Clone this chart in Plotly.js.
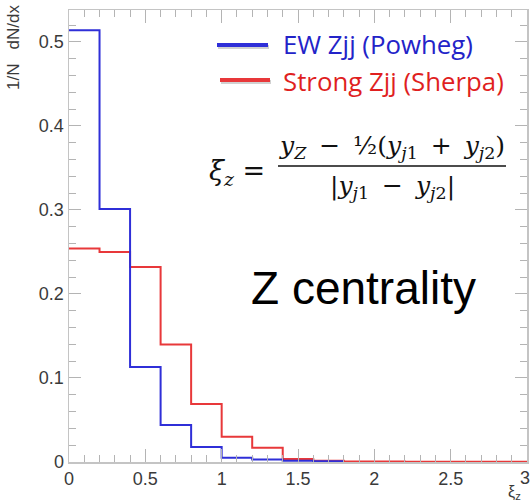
<!DOCTYPE html>
<html>
<head>
<meta charset="utf-8">
<script src="https://cdn.plot.ly/plotly-3.0.1.min.js"></script>
<style>
  html, body { margin: 0; padding: 0; background: #ffffff; overflow: hidden; }
  #chart { width: 540px; height: 504px; }
</style>
</head>
<body>
<div id="chart"></div>
<script>
// Bin edges of the xi_z histogram (width 0.2)
const binEdges = [0, 0.2, 0.4, 0.6, 0.8, 1.0, 1.2, 1.4, 1.6, 1.8, 2.0, 2.2, 2.4, 2.6, 2.8, 3.0];

// Normalised bin contents, 1/N dN/dx
const ewZjjPowheg = [0.514, 0.301, 0.113, 0.044, 0.018, 0.005, 0.003, 0.0015, 0.0008];
const strongZjjSherpa = [0.254, 0.250, 0.232, 0.140, 0.069, 0.030, 0.017, 0.0035, 0.0015,
                         0.0006, 0.0005, 0.0004, 0.0004, 0.0003, 0.0003];

const seriesNames = ['EW Zjj (Powheg)', 'Strong Zjj (Sherpa)'];
const xTickVals = [0, 0.5, 1, 1.5, 2, 2.5, 3];
const xTickText = ['0', '0.5', '1', '1.5', '2', '2.5', '3'];
const yTickVals = [0, 0.1, 0.2, 0.3, 0.4, 0.5];
const yTickText = ['0', '0.1', '0.2', '0.3', '0.4', '0.5'];

const BLUE = '#2f2fd8';
const RED = '#e8383a';

// Step outline of a histogram: one point per bin low edge, plus the last high edge
function stepTrace(values, color, name) {
  const x = binEdges.slice(0, values.length + 1);
  const y = values.concat([values[values.length - 1]]);
  return {
    type: 'scatter', mode: 'lines', name: name,
    x: x, y: y,
    line: { shape: 'hv', color: color, width: 2 },
    showlegend: false, hoverinfo: 'skip'
  };
}

const traces = [
  stepTrace(strongZjjSherpa, RED, seriesNames[1]),
  stepTrace(ewZjjPowheg, BLUE, seriesNames[0]),
  // empty trace that carries the overlaid minor-tick axes
  { type: 'scatter', mode: 'lines', x: [], y: [], xaxis: 'x2', yaxis: 'y2',
    showlegend: false, hoverinfo: 'skip' }
];

// plot-area geometry in pixels, for placing the decorations
// (the figure is a few pixels wider than the page so the frame reaches the right edge)
const L = 69, R = 13, T = 10, B = 42, W = 540, H = 504;
const PW = W - L - R, PH = H - T - B;
const px = p => (p - L) / PW;
const py = p => (H - B - p) / PH;

const frame = '#c4c4c4';
const tickCol = '#b4b4b4';
const labelFont = { family: 'Liberation Sans, Arial, sans-serif', size: 18, color: '#3a3a3a' };

const commonAxis = {
  showgrid: false, zeroline: false,
  showline: true, linecolor: frame, linewidth: 1.5,
  mirror: 'allticks',
  ticks: 'inside', tickcolor: tickCol, tickwidth: 1,
  tickfont: labelFont, tickmode: 'array', fixedrange: true, tickangle: 0
};

// axes that only draw the short ROOT-style minor ticks on all four sides
const minorAxis = {
  showgrid: false, zeroline: false, showticklabels: false,
  showline: true, linecolor: frame, linewidth: 1.5, mirror: 'ticks',
  ticks: 'inside', tickcolor: tickCol, tickwidth: 1, ticklen: 7,
  tickmode: 'linear', tick0: 0, fixedrange: true
};

const serif = 'DejaVu Serif, Liberation Serif, serif';
const legendFont = 'Open Sans, Lato, sans-serif';
const sp = '&#8201;';

// the label at the right end of the x axis sits on the frame edge; it is
// right-aligned just inside the page so it stays on the label row
const nX = xTickVals.length;

const annotations = [
  { xref: 'paper', yref: 'paper', x: px(531), y: py(467), text: xTickText[nX - 1],
    showarrow: false, xanchor: 'right', yanchor: 'top', font: labelFont,
    borderpad: 0 },
  // y axis title
  { xref: 'paper', yref: 'paper', x: px(14), y: py(47), text: '1/N&nbsp;&nbsp;&nbsp;dN/dx',
    textangle: -90, showarrow: false, xanchor: 'center', yanchor: 'middle',
    font: { family: 'Liberation Sans, Arial, sans-serif', size: 17, color: '#3a3a3a' } },
  // x axis title
  { xref: 'paper', yref: 'paper', x: px(514), y: py(492), text: 'ξ<sub>z</sub>',
    showarrow: false, xanchor: 'center', yanchor: 'middle',
    font: { family: 'Liberation Sans, Arial, sans-serif', size: 16, color: '#3a3a3a' } },
  // legend texts
  { xref: 'paper', yref: 'paper', x: px(281), y: py(44), text: seriesNames[0],
    showarrow: false, xanchor: 'left', yanchor: 'middle',
    font: { family: legendFont, size: 25.8, color: '#2323c8' } },
  { xref: 'paper', yref: 'paper', x: px(281), y: py(81), text: seriesNames[1],
    showarrow: false, xanchor: 'left', yanchor: 'middle',
    font: { family: legendFont, size: 25.8, color: '#e01f1f' } },
  // centrality definition
  { xref: 'paper', yref: 'paper', x: px(237), y: py(173), text: '<i>ξ</i><sub><i>z</i></sub> =',
    showarrow: false, xanchor: 'center', yanchor: 'middle',
    font: { family: serif, size: 27, color: '#111111' } },
  { xref: 'paper', yref: 'paper', x: px(392), y: py(147),
    text: '<i>y</i><sub><i>Z</i></sub> ' + sp + '−' + sp + ' ½(<i>y</i><sub><i>j</i>1</sub> ' + sp + '+' + sp + ' <i>y</i><sub><i>j</i>2</sub>)',
    showarrow: false, xanchor: 'center', yanchor: 'middle',
    font: { family: serif, size: 25, color: '#111111' } },
  { xref: 'paper', yref: 'paper', x: px(392), y: py(187),
    text: '|<i>y</i><sub><i>j</i>1</sub> ' + sp + '−' + sp + ' <i>y</i><sub><i>j</i>2</sub>|',
    showarrow: false, xanchor: 'center', yanchor: 'middle',
    font: { family: serif, size: 25, color: '#111111' } },
  // panel label
  { xref: 'paper', yref: 'paper', x: px(363), y: py(288), text: 'Z centrality',
    showarrow: false, xanchor: 'center', yanchor: 'middle',
    font: { family: 'Liberation Sans, Arial, sans-serif', size: 46, color: '#000000' } }
];

const shapes = [
  // legend line samples with soft shadow
  { type: 'line', xref: 'paper', yref: 'paper', x0: px(218), x1: px(269), y0: py(47), y1: py(47),
    line: { color: 'rgba(0,0,0,0.18)', width: 4 } },
  { type: 'line', xref: 'paper', yref: 'paper', x0: px(217), x1: px(268), y0: py(45), y1: py(45),
    line: { color: BLUE, width: 4 } },
  { type: 'line', xref: 'paper', yref: 'paper', x0: px(221), x1: px(271), y0: py(82), y1: py(82),
    line: { color: 'rgba(0,0,0,0.18)', width: 4 } },
  { type: 'line', xref: 'paper', yref: 'paper', x0: px(220), x1: px(270), y0: py(80), y1: py(80),
    line: { color: RED, width: 4 } },
  // fraction bar
  { type: 'line', xref: 'paper', yref: 'paper', x0: px(278), x1: px(506), y0: py(166), y1: py(166),
    line: { color: '#111111', width: 1.3 } }
];

const layout = {
  width: W, height: H,
  margin: { l: L, r: R, t: T, b: B },
  paper_bgcolor: '#ffffff', plot_bgcolor: '#ffffff',
  showlegend: false,
  xaxis: Object.assign({}, commonAxis, {
    range: [0, 3], tickvals: xTickVals.slice(0, nX - 1), ticktext: xTickText.slice(0, nX - 1), ticklen: 13
  }),
  yaxis: Object.assign({}, commonAxis, {
    range: [0, 0.538], tickvals: yTickVals, ticktext: yTickText, ticklen: 12
  }),
  xaxis2: Object.assign({}, minorAxis, {
    range: [0, 3], dtick: 0.1, overlaying: 'x', anchor: 'y2', side: 'bottom'
  }),
  yaxis2: Object.assign({}, minorAxis, {
    range: [0, 0.538], dtick: 0.02, overlaying: 'y', anchor: 'x2', side: 'left'
  }),
  annotations: annotations,
  shapes: shapes
};

Plotly.newPlot('chart', traces, layout, { staticPlot: true, displayModeBar: false });
</script>
</body>
</html>
